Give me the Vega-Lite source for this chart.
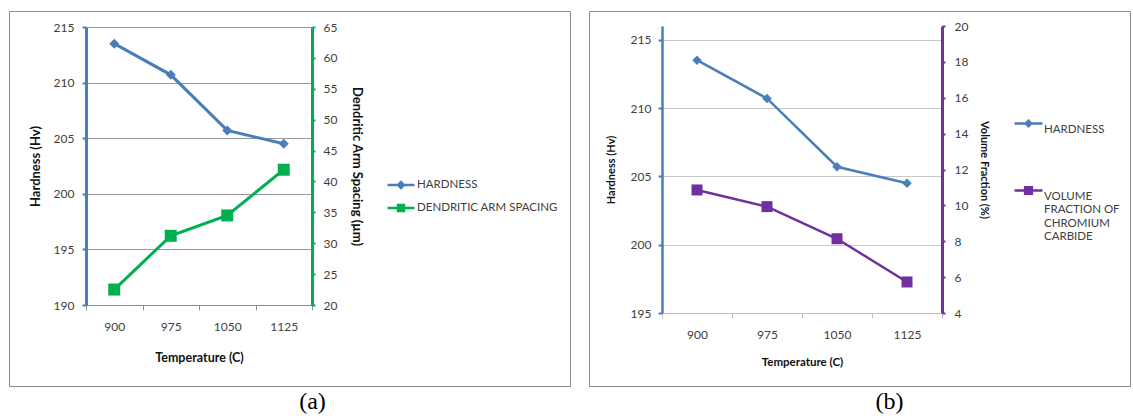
{
  "$schema": "https://vega.github.io/schema/vega-lite/v6.json",
  "padding": {"left": 8, "top": 10, "right": 0, "bottom": 0},
  "background": "white",
  "spacing": 17,
  "config": {
    "view": {"stroke": "#8c8c8c", "strokeWidth": 1},
    "font": "Lato",
    "axis": {"labelFont": "Lato", "labelFontSize": 12, "labelColor": "#404040", "titleFont": "Lato", "titleFontWeight": "bold", "titleColor": "#111111"},
    "legend": {"labelFont": "Lato", "labelFontSize": 11.5, "labelColor": "#404040"}
  },
  "resolve": {"scale": {"x": "independent", "y": "independent", "color": "independent", "shape": "independent"}, "legend": {"color": "independent", "shape": "independent"}},
  "hconcat": [
    {
      "width": 561,
      "height": 375,
      "title": {"text": "(a)", "orient": "bottom", "font": "Liberation Serif", "fontSize": 24, "fontWeight": "normal", "color": "#000000", "dx": 23, "offset": 4},
      "data": {"values": [
        {"temp": 900, "series": "HARDNESS", "value": 213.5},
        {"temp": 975, "series": "HARDNESS", "value": 210.7},
        {"temp": 1050, "series": "HARDNESS", "value": 205.7},
        {"temp": 1125, "series": "HARDNESS", "value": 204.5},
        {"temp": 900, "series": "DENDRITIC ARM SPACING", "value": 22.5},
        {"temp": 975, "series": "DENDRITIC ARM SPACING", "value": 31.2},
        {"temp": 1050, "series": "DENDRITIC ARM SPACING", "value": 34.5},
        {"temp": 1125, "series": "DENDRITIC ARM SPACING", "value": 41.9}
      ]},
      "encoding": {
        "x": {
          "field": "temp", "type": "ordinal", "bandPosition": 0.5,
          "scale": {"type": "band", "range": [77, 303], "paddingInner": 0, "paddingOuter": 0},
          "axis": {"title": "Temperature (C)", "orient": "bottom", "offset": -81, "labelAngle": 0, "tickBand": "extent", "tickSize": 5, "tickColor": "#8c8c8c", "domainColor": "#8c8c8c", "labelPadding": 11, "titleFontSize": 12.5, "titlePadding": 19, "grid": false}
        }
      },
      "layer": [
        {
          "transform": [{"filter": "datum.series === 'HARDNESS'"}],
          "encoding": {
            "y": {"field": "value", "type": "quantitative",
              "scale": {"domain": [190, 215], "range": [294, 16], "nice": false, "zero": false},
              "axis": {"title": "Hardness (Hv)", "orient": "left", "offset": -77, "values": [190, 195, 200, 205, 210, 215], "domainColor": "#4a7ebb", "domainWidth": 3, "tickColor": "#4a7ebb", "tickWidth": 2, "tickSize": 4, "labelPadding": 8, "titleFontSize": 13, "titlePadding": 11, "grid": true, "gridColor": "#999999", "gridWidth": 1}
            },
            "color": {"field": "series", "type": "nominal",
              "scale": {"domain": ["HARDNESS", "DENDRITIC ARM SPACING"], "range": ["#4a7ebb", "#00b050"]},
              "legend": {"title": null, "orient": "none", "legendX": 377, "legendY": 159, "symbolSize": 729, "symbolStrokeWidth": 2.5, "symbolOpacity": 1, "labelOffset": 1, "rowPadding": 0}
            }
          },
          "layer": [
            {"mark": {"type": "line", "strokeWidth": 3}},
            {"mark": {"type": "point", "filled": true, "opacity": 1, "shape": "diamond", "size": 100}},
            {"mark": {"type": "point", "filled": true, "opacity": 0},
              "encoding": {"shape": {"field": "series", "type": "nominal",
                "scale": {"domain": ["HARDNESS", "DENDRITIC ARM SPACING"], "range": ["M-1,0H1M0,-0.22L0.22,0L0,0.22L-0.22,0Z", "M-1,0H1M-0.22,-0.22H0.22V0.22H-0.22Z"]},
                "legend": {"title": null, "orient": "none", "legendX": 377, "legendY": 159, "symbolSize": 729, "symbolStrokeWidth": 2.5, "symbolOpacity": 1, "labelOffset": 1, "rowPadding": 0}}}}
          ]
        },
        {
          "transform": [{"filter": "datum.series === 'DENDRITIC ARM SPACING'"}],
          "encoding": {
            "y": {"field": "value", "type": "quantitative",
              "scale": {"domain": [20, 65], "range": [294, 16], "nice": false, "zero": false},
              "axis": {"title": "Dendritic Arm Spacing (µm)", "orient": "right", "offset": -258, "values": [20, 25, 30, 35, 40, 45, 50, 55, 60, 65], "domainColor": "#00b050", "domainWidth": 3, "tickColor": "#00b050", "tickWidth": 2, "tickSize": 3, "labelPadding": 8, "titleFontSize": 13, "titlePadding": 13, "grid": false}
            },
            "color": {"field": "series", "type": "nominal"}
          },
          "layer": [
            {"mark": {"type": "line", "strokeWidth": 3}},
            {"mark": {"type": "point", "filled": true, "opacity": 1, "shape": "square", "size": 144}}
          ]
        }
      ],
      "resolve": {"scale": {"y": "independent"}, "axis": {"y": "independent"}}
    },
    {
      "width": 541,
      "height": 375,
      "title": {"text": "(b)", "orient": "bottom", "font": "Liberation Serif", "fontSize": 24, "fontWeight": "normal", "color": "#000000", "dx": 30, "offset": 4},
      "data": {"values": [
        {"temp": 900, "series": "HARDNESS", "value": 213.5},
        {"temp": 975, "series": "HARDNESS", "value": 210.7},
        {"temp": 1050, "series": "HARDNESS", "value": 205.7},
        {"temp": 1125, "series": "HARDNESS", "value": 204.5},
        {"temp": 900, "series": "VOLUME FRACTION OF CHROMIUM CARBIDE", "value": 10.86},
        {"temp": 975, "series": "VOLUME FRACTION OF CHROMIUM CARBIDE", "value": 9.93},
        {"temp": 1050, "series": "VOLUME FRACTION OF CHROMIUM CARBIDE", "value": 8.14},
        {"temp": 1125, "series": "VOLUME FRACTION OF CHROMIUM CARBIDE", "value": 5.73}
      ]},
      "encoding": {
        "x": {
          "field": "temp", "type": "ordinal", "bandPosition": 0.5,
          "scale": {"type": "band", "range": [73, 353], "paddingInner": 0, "paddingOuter": 0},
          "axis": {"title": "Temperature (C)", "orient": "bottom", "offset": -73, "labelAngle": 0, "tickBand": "extent", "tickSize": 5, "tickColor": "#bfbfbf", "domainColor": "#bfbfbf", "labelPadding": 11, "titleFontSize": 11.5, "titlePadding": 16, "grid": false}
        }
      },
      "layer": [
        {
          "transform": [{"filter": "datum.series === 'HARDNESS'"}],
          "encoding": {
            "y": {"field": "value", "type": "quantitative",
              "scale": {"domain": [195, 216], "range": [302, 15], "nice": false, "zero": false},
              "axis": {"title": "Hardness (Hv)", "orient": "left", "offset": -73, "values": [195, 200, 205, 210, 215], "domainColor": "#4a7ebb", "domainWidth": 2.5, "tickColor": "#4a7ebb", "tickWidth": 2, "tickSize": 4, "labelPadding": 7, "titleFontSize": 11, "titlePadding": 14, "grid": true, "gridColor": "#c8c8c8", "gridWidth": 1}
            },
            "color": {"field": "series", "type": "nominal",
              "scale": {"domain": ["HARDNESS", "VOLUME FRACTION OF CHROMIUM CARBIDE"], "range": ["#4a7ebb", "#7030a0"]},
              "legend": {"title": null, "orient": "none", "legendX": 424, "legendY": 97, "symbolSize": 784, "symbolStrokeWidth": 2.5, "symbolOpacity": 1, "labelOffset": 0, "rowPadding": 40, "labelBaseline": "top", "labelLimit": 200,
                "labelExpr": "datum.label === 'VOLUME FRACTION OF CHROMIUM CARBIDE' ? ['VOLUME', 'FRACTION OF', 'CHROMIUM', 'CARBIDE'] : datum.label"}
            }
          },
          "layer": [
            {"mark": {"type": "line", "strokeWidth": 2.5}},
            {"mark": {"type": "point", "filled": true, "opacity": 1, "shape": "diamond", "size": 90}},
            {"mark": {"type": "point", "filled": true, "opacity": 0},
              "encoding": {"shape": {"field": "series", "type": "nominal",
                "scale": {"domain": ["HARDNESS", "VOLUME FRACTION OF CHROMIUM CARBIDE"], "range": ["M-1,0H1M0,-0.2L0.2,0L0,0.2L-0.2,0Z", "M-1,0H1M-0.24,-0.24H0.24V0.24H-0.24Z"]},
                "legend": {"title": null, "orient": "none", "legendX": 424, "legendY": 97, "symbolSize": 784, "symbolStrokeWidth": 2.5, "symbolOpacity": 1, "labelOffset": 0, "rowPadding": 40, "labelBaseline": "top", "labelLimit": 200,
                  "labelExpr": "datum.label === 'VOLUME FRACTION OF CHROMIUM CARBIDE' ? ['VOLUME', 'FRACTION OF', 'CHROMIUM', 'CARBIDE'] : datum.label"}}}}
          ]
        },
        {
          "transform": [{"filter": "datum.series === 'VOLUME FRACTION OF CHROMIUM CARBIDE'"}],
          "encoding": {
            "y": {"field": "value", "type": "quantitative",
              "scale": {"domain": [4, 20], "range": [302, 15], "nice": false, "zero": false},
              "axis": {"title": "Volume Fraction (%)", "orient": "right", "offset": -188, "values": [4, 6, 8, 10, 12, 14, 16, 18, 20], "domainColor": "#7030a0", "domainWidth": 3, "tickColor": "#7030a0", "tickWidth": 2, "tickSize": 3, "labelPadding": 9, "titleFontSize": 11, "titlePadding": 11, "grid": false}
            },
            "color": {"field": "series", "type": "nominal"}
          },
          "layer": [
            {"mark": {"type": "line", "strokeWidth": 2.5}},
            {"mark": {"type": "point", "filled": true, "opacity": 1, "shape": "square", "size": 121}}
          ]
        }
      ],
      "resolve": {"scale": {"y": "independent"}, "axis": {"y": "independent"}}
    }
  ]
}
